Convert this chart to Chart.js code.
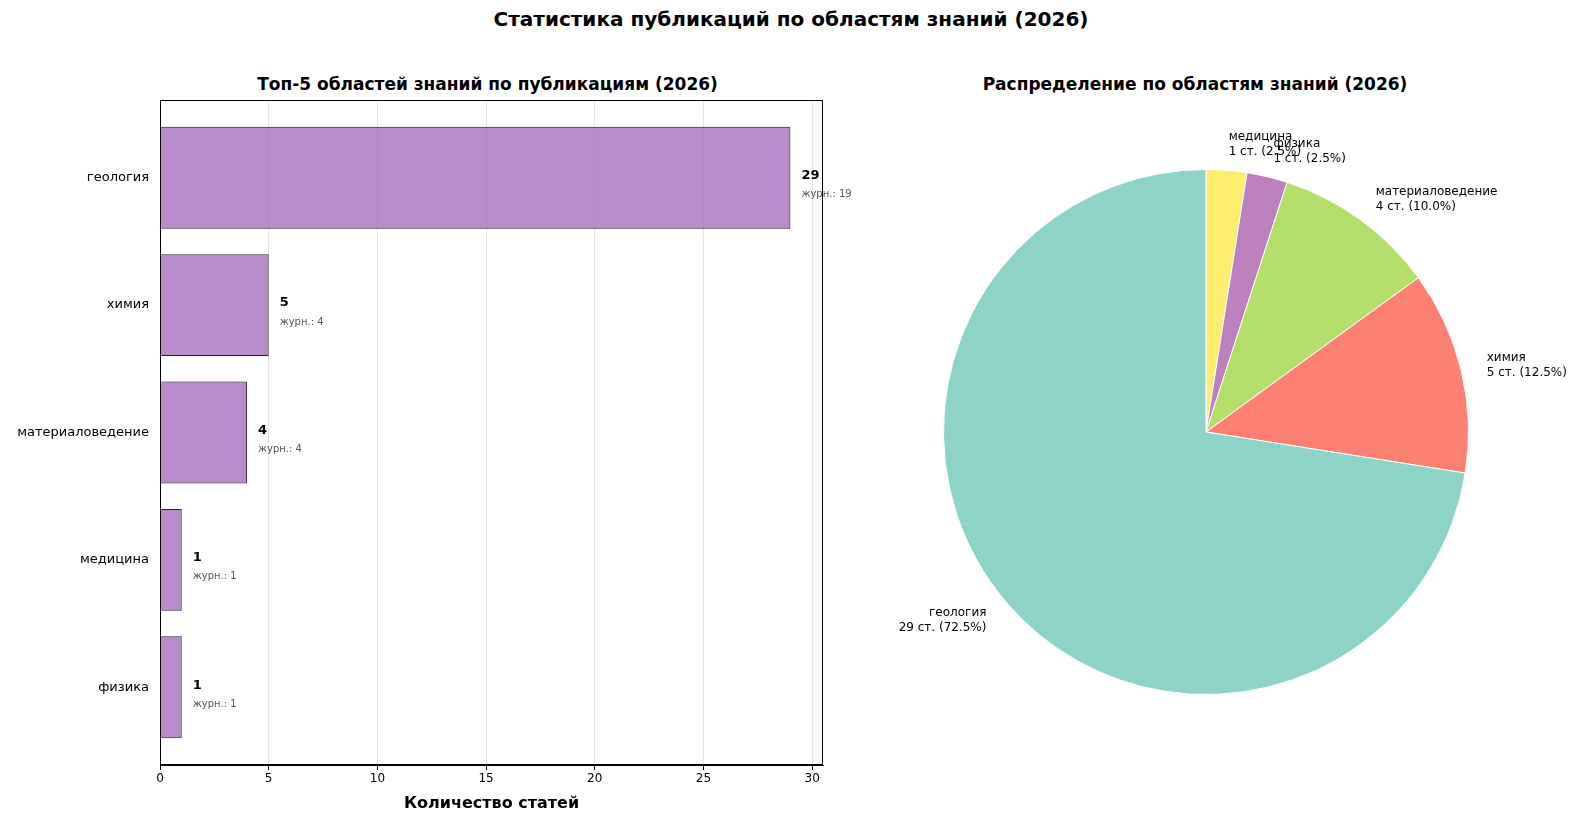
<!DOCTYPE html>
<html><head><meta charset="utf-8">
<script src="https://cdn.jsdelivr.net/npm/chart.js@4"></script>
<style>
body{margin:0;width:1582px;height:821px;background:#fff;font-family:"DejaVu Sans",sans-serif;position:relative;overflow:hidden}
.t{position:absolute;font-weight:bold;color:#000;text-align:center}
canvas{position:absolute}
</style></head><body>
<div class="t" style="left:0;width:1582px;top:7px;font-size:20px">Статистика публикаций по областям знаний (2026)</div>
<div class="t" style="left:160px;width:655px;top:74px;font-size:17px">Топ-5 областей знаний по публикациям (2026)</div>
<div class="t" style="left:890px;width:610px;top:74px;font-size:17px">Распределение по областям знаний (2026)</div>
<canvas id="pie" width="742" height="821" style="left:840px;top:0;width:742px;height:821px"></canvas>
<canvas id="bar" width="880" height="821" style="left:0;top:0;width:880px;height:821px;z-index:2"></canvas>
<script>
const categories=["геология","химия","материаловедение","медицина","физика"];
const articles=[29,5,4,1,1];
const journals=[19,4,4,1,1];
const xTicks=[0,5,10,15,20,25,30];
const pieLabels=["медицина","физика","материаловедение","химия","геология"];
const pieValues=[1,1,4,5,29];
const pieColors=["#ffed6f","#bc80bd","#b3de69","#fb8072","#8dd3c7"];
const F="'DejaVu Sans', sans-serif";
Chart.defaults.font.family=F;
Chart.defaults.color="#000";
const barLbl={id:"bl",afterDatasetsDraw(c){const ctx=c.ctx;c.getDatasetMeta(0).data.forEach((b,i)=>{ctx.save();ctx.textBaseline="middle";ctx.fillStyle="#000";ctx.font="bold 13px "+F;ctx.fillText(articles[i],b.x+11,b.y-2);ctx.fillStyle="#555";ctx.font="10px "+F;ctx.fillText("журн.: "+journals[i],b.x+11,b.y+17);ctx.restore();});}};
new Chart(document.getElementById("bar"),{type:"bar",data:{datasets:[{data:articles.map((v,i)=>({x:v,y:i})),backgroundColor:"rgba(160,100,185,0.75)",borderColor:"#2b1b2f",borderWidth:1,barPercentage:0.8,categoryPercentage:1}]},
options:{indexAxis:"y",responsive:false,devicePixelRatio:1,animation:false,layout:{padding:{top:100,right:57,bottom:0,left:0}},plugins:{legend:{display:false},tooltip:{enabled:false}},
scales:{x:{type:"linear",min:0,max:30.5,afterBuildTicks(s){s.ticks=xTicks.map(v=>({value:v}));},ticks:{font:{size:12},color:"#000",padding:2},grid:{color:"#e5e5e5",drawTicks:true,tickColor:"#000",tickLength:5},border:{color:"#000"},title:{display:true,text:"Количество статей",font:{size:16,weight:"bold"},color:"#000",padding:{top:0,bottom:8}},afterFit(s){s.height=56;}},
y:{type:"linear",offset:false,reverse:true,min:-0.61,max:4.61,afterBuildTicks(s){s.ticks=categories.map((c,i)=>({value:i}));},ticks:{font:{size:13},color:"#000",callback:v=>categories[v]},grid:{display:false,drawTicks:true,tickColor:"#000"},border:{color:"#000"},afterFit(s){s.width=160;}}}},plugins:[barLbl,{id:"frame",afterDraw(c){const a=c.chartArea,x=c.ctx;x.save();x.strokeStyle="#000";x.lineWidth=1;x.strokeRect(a.left+.5,a.top+.5,a.width-1,a.height-1);x.restore();}}]});
const pieLbl={id:"pl",afterDatasetsDraw(c){const ctx=c.ctx;const tot=pieValues.reduce((a,b)=>a+b,0);c.getDatasetMeta(0).data.forEach((a,i)=>{const m=(a.startAngle+a.endAngle)/2;const r=a.outerRadius*1.1;const x=a.x+Math.cos(m)*r,y=a.y+Math.sin(m)*r;ctx.save();ctx.font="12px "+F;ctx.fillStyle="#000";ctx.textAlign=Math.cos(m)>=0?"left":"right";ctx.textBaseline="middle";const p=(pieValues[i]/tot*100).toFixed(1);ctx.fillText(pieLabels[i],x,y-7);ctx.fillText(pieValues[i]+" ст. ("+p+"%)",x,y+8);ctx.restore();});}};
new Chart(document.getElementById("pie"),{type:"pie",data:{labels:pieLabels,datasets:[{data:pieValues,backgroundColor:pieColors,borderColor:"#fff",borderWidth:1}]},
options:{responsive:false,devicePixelRatio:1,animation:false,layout:{padding:{top:169,bottom:126,left:103,right:113}},plugins:{legend:{display:false},tooltip:{enabled:false}}},plugins:[pieLbl]});
</script>
</body></html>
